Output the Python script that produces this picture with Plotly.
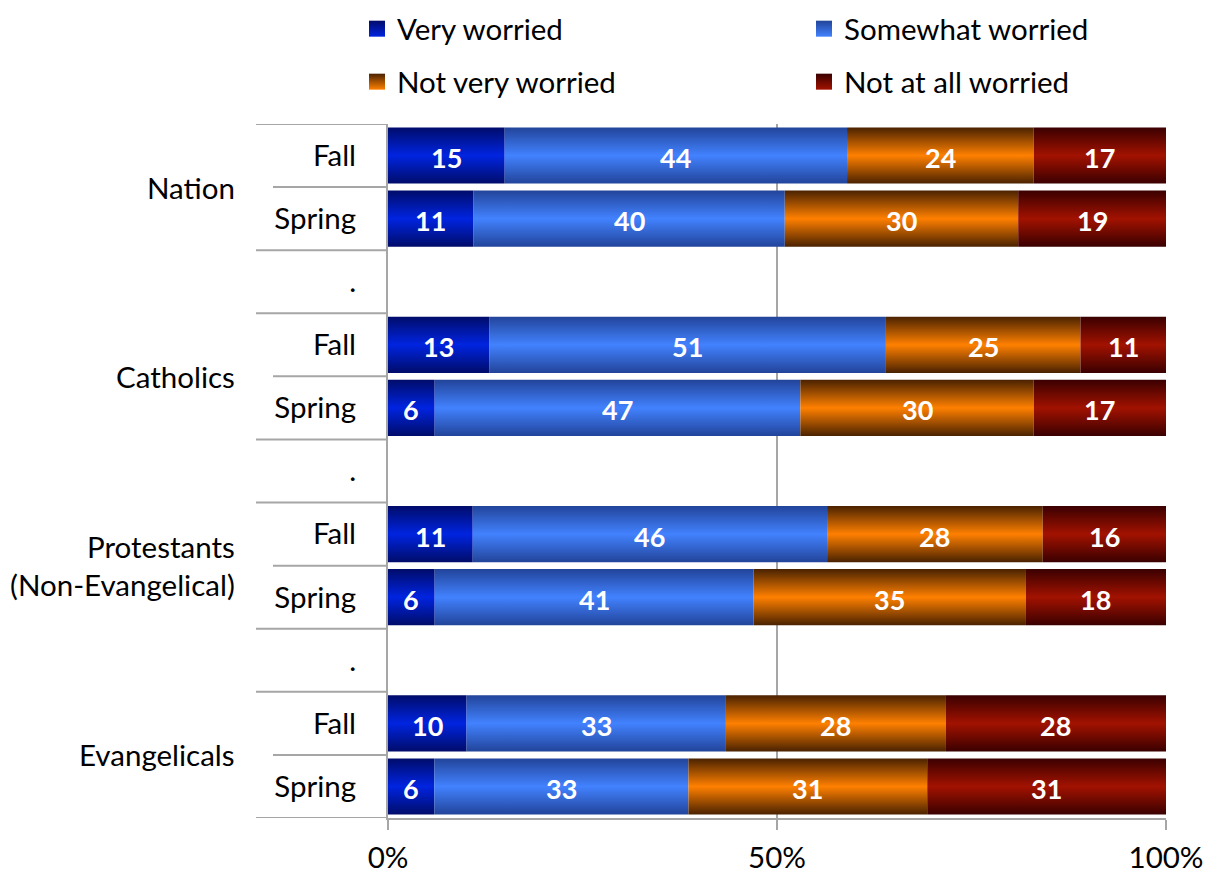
import plotly.graph_objects as go

# ---- data ----
groups = ["Nation", "Catholics", "Protestants<br>(Non-Evangelical)", "Evangelicals"]
waves = ["Fall", "Spring"]
series_names = ["Very worried", "Somewhat worried", "Not very worried", "Not at all worried"]
very_worried = [15, 11, 13, 6, 11, 6, 10, 6]
somewhat_worried = [44, 40, 51, 47, 46, 41, 33, 33]
not_very_worried = [24, 30, 25, 30, 28, 35, 28, 31]
not_at_all_worried = [17, 19, 11, 17, 16, 18, 28, 31]
x_tick_vals = [0, 50, 100]
x_tick_text = ["0%", "50%", "100%"]

# ---- style ----
FONT = "Lato"
FS = 29.5
edge_colors = ["#000c6a", "#22449a", "#4a2200", "#3a0000"]
mid_colors = ["#0024e0", "#4282ff", "#ff8000", "#a21200"]
GRID = "#a6a6a6"
OFF = 8  # page body margin of the browser

series = [very_worried, somewhat_worried, not_very_worried, not_at_all_worried]

# row layout: each group -> Fall, Spring, then a "." spacer (except last)
row_pos = []
tick_vals, tick_text = [], []
group_centers = []
pos = 0
for gi, g in enumerate(groups):
    start = pos
    for w in waves:
        row_pos.append(pos)
        tick_vals.append(pos)
        tick_text.append(w)
        pos += 1
    group_centers.append((start + pos - 1) / 2)
    if gi < len(groups) - 1:
        tick_vals.append(pos)
        tick_text.append(".")
        pos += 1
n_rows = pos

fig = go.Figure()
half = 0.445
annotations = []
for r, yv in enumerate(row_pos):
    vals = [s[r] for s in series]
    tot = sum(vals)
    left = 0.0
    for si, v in enumerate(vals):
        w = v / tot * 100
        x0, x1 = left, left + w
        fig.add_trace(go.Scatter(
            x=[x0, x1, x1, x0, x0],
            y=[yv - half, yv - half, yv + half, yv + half, yv - half],
            mode="lines", line=dict(width=0), fill="toself",
            fillcolor=mid_colors[si],
            fillgradient=dict(type="vertical",
                              colorscale=[[0, edge_colors[si]], [0.5, mid_colors[si]], [1, edge_colors[si]]]),
            hoverinfo="skip", showlegend=False))
        annotations.append(dict(text=str(v), x=(x0 + x1) / 2, y=yv, xref="x", yref="y",
                                showarrow=False, xanchor="center", yanchor="middle", yshift=-2,
                                font=dict(family=FONT, size=27, color="white", weight="bold")))
        left = x1

# geometry (reference pixels -> figure pixels)
W_FIG, H_FIG = 1211 - OFF, 875 - OFF
PL, PR, PT, PB = 388 - OFF, 1166 - OFF, 124 - OFF, 818 - OFF
PW = PR - PL
PH = PB - PT

def px_to_paper_x(px):
    return (px - OFF - PL) / PW

# legend entries: one legend per entry, placed in a 2x2 grid (x of text, top of legend box in figure px)
leg_pos = [(397, -5), (844, -5), (397, 48), (844, 48)]
legend_layouts = {}
for si, name in enumerate(series_names):
    key = "legend" if si == 0 else f"legend{si + 1}"
    fig.add_trace(go.Scatter(
        x=[None], y=[None], mode="markers", name=name,
        marker=dict(symbol="square", size=18, color=edge_colors[si],
                    gradient=dict(type="vertical", color=mid_colors[si])),
        legend=key))
    tx, ty = leg_pos[si]
    legend_layouts[key] = dict(
        orientation="h", xref="paper", yref="paper",
        x=px_to_paper_x(tx - 40), xanchor="left",
        y=1 + (PT - ty) / PH, yanchor="top",
        font=dict(family=FONT, size=FS, color="black"),
        bgcolor="rgba(0,0,0,0)", itemclick=False, itemdoubleclick=False)

# separator lines in the label area
long_x = px_to_paper_x(256)
short_x = px_to_paper_x(273)
inner_bounds = [rp + 0.5 for rp in row_pos[0::2]]
shapes = []
for k in range(n_rows + 1):
    yb = k - 0.5
    inner = any(abs(yb - ib) < 1e-9 for ib in inner_bounds)
    shapes.append(dict(type="line", xref="paper", yref="y",
                       x0=short_x if inner else long_x, x1=0, y0=yb, y1=yb,
                       line=dict(color=GRID, width=2)))

for g, c in zip(groups, group_centers):
    annotations.append(dict(text=g, xref="paper", yref="y", x=px_to_paper_x(237), y=c,
                            xanchor="right", yanchor="middle", showarrow=False,
                            align="right", font=dict(family=FONT, size=FS, color="black")))

fig.update_layout(
    width=W_FIG, height=H_FIG,
    margin=dict(l=PL, r=W_FIG - PR, t=PT, b=H_FIG - PB, autoexpand=False),
    paper_bgcolor="white", plot_bgcolor="white",
    font=dict(family=FONT, size=FS, color="black"),
    shapes=shapes, annotations=annotations,
    xaxis=dict(range=[0, 100], tickvals=x_tick_vals, ticktext=x_tick_text,
               showgrid=True, gridcolor=GRID, gridwidth=2,
               zeroline=False, showline=True, linecolor=GRID, linewidth=2,
               ticks="outside", ticklen=10, tickcolor=GRID, tickwidth=2,
               ticklabelstandoff=3,
               tickfont=dict(family=FONT, size=FS, color="black"), fixedrange=True),
    yaxis=dict(range=[n_rows - 0.5, -0.5], tickvals=tick_vals, ticktext=tick_text,
               showgrid=False, zeroline=False, showline=True, linecolor=GRID, linewidth=2,
               ticks="", ticklabelstandoff=24,
               tickfont=dict(family=FONT, size=FS, color="black"), fixedrange=True),
    **legend_layouts,
)

fig.write_html("out.html")
